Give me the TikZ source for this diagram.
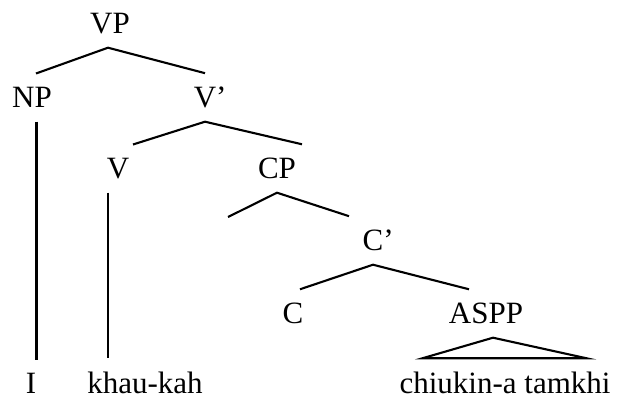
\documentclass[tikz,border=0pt]{standalone}
\usepackage{fontspec}
\setmainfont{Liberation Serif}
\usetikzlibrary{calc}

\begin{document}
\begin{tikzpicture}[x=1pt, y=-1pt, font=\fontsize{31}{36}\selectfont,
    cat/.style={anchor=base, inner xsep=0pt, inner ysep=13pt, text depth=1.5pt},
    branch/.style={line width=2.1pt}]
  \useasboundingbox (0,0) rectangle (617,399);

  % category labels (placed on their baselines)
  \node[cat] (vp) at (110,33) {VP};
  \node[cat] (np) at (32,107) {NP};
  \node[cat] (vbar) at (205,107) {V\rlap{’}};
  \node[cat] (v) at (118,178) {V};
  \node[cat] (cp) at (277,178) {CP};
  \node[cat] (cbar) at (373,250) {C\rlap{’}};
  \node[cat] (c) at (293,323) {C};
  \node[cat] (aspp) at (486,323) {ASPP};

  % words
  \node[cat] (pron) at (31,393) {I};
  \node[cat] (verb) at (145,393) {khau-kah};
  \node[cat] (clause) at (505,393) {chiukin-a tamkhi};

  % empty specifier of CP
  \coordinate (spec) at (228,217);

  % branches
  \draw[branch] ([xshift=4pt]np.north) -- ([xshift=-2pt]vp.south) -- (vbar.north);
  \draw[branch] ([xshift=15pt]v.north) -- (vbar.south) -- ([xshift=25pt]cp.north);
  \draw[branch] (spec) -- (cp.south) -- ([xshift=-24pt]cbar.north);
  \draw[branch] ([xshift=7pt]c.north) -- (cbar.south) -- ([xshift=-17pt]aspp.north);

  % unary lines down to the words
  \draw[branch] ([xshift=4.5pt]np.south) -- ([xshift=4.5pt]np.south |- pron.north);
  \draw[branch] ([xshift=-10pt]v.south) -- ([xshift=-10pt]v.south |- verb.north);

  % roof over the ASPP string
  \draw[branch] ([xshift=23pt]clause.north west) -- ([xshift=7pt]aspp.south)
    -- ([xshift=-24pt]clause.north east) -- cycle;
\end{tikzpicture}
\end{document}
